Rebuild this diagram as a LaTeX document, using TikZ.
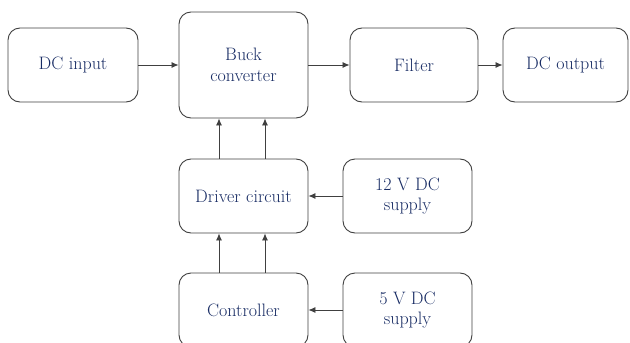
\documentclass[tikz,border=0pt]{standalone}
\usetikzlibrary{arrows.meta}
\definecolor{txt}{HTML}{182C64}
\definecolor{ln}{HTML}{404040}
\begin{document}
\begin{tikzpicture}[x=1pt,y=-1pt,
  blk/.style={draw=ln,line width=0.9pt,rounded corners=12pt,fill=white,inner sep=0pt,
    text=txt,font=\fontsize{18}{20.5}\selectfont,align=center},
  arr/.style={draw=ln,line width=0.8pt,-{Latex[length=7pt,width=6pt]}}]
\useasboundingbox (0,0) rectangle (630,343);
\node[blk,minimum width=130pt,minimum height=74pt] (in) at (73,65) {DC input};
\node[blk,minimum width=129pt,minimum height=106pt] (buck) at (243.5,65) {Buck\\converter};
\node[blk,minimum width=128pt,minimum height=74pt] (filt) at (414,65) {Filter};
\node[blk,minimum width=125pt,minimum height=74pt] (out) at (565.5,65) {DC output};
\node[blk,minimum width=129pt,minimum height=74pt] (drv) at (243.5,196) {Driver circuit};
\node[blk,minimum width=129pt,minimum height=74pt] (s12) at (407.5,196) {12 V DC\\supply};
\node[blk,minimum width=129pt,minimum height=74pt] (ctl) at (243.5,310) {Controller};
\node[blk,minimum width=129pt,minimum height=74pt] (s5) at (407.5,310) {5 V DC\\supply};
\draw[arr] (in) -- (buck);
\draw[arr] (buck) -- (filt);
\draw[arr] (filt) -- (out);
\draw[arr] (s12) -- (drv);
\draw[arr] (s5) -- (ctl);
\draw[arr] (drv.north -| 219,0) -- (buck.south -| 219,0);
\draw[arr] (drv.north -| 265,0) -- (buck.south -| 265,0);
\draw[arr] (ctl.north -| 219,0) -- (drv.south -| 219,0);
\draw[arr] (ctl.north -| 265,0) -- (drv.south -| 265,0);
\end{tikzpicture}
\end{document}
